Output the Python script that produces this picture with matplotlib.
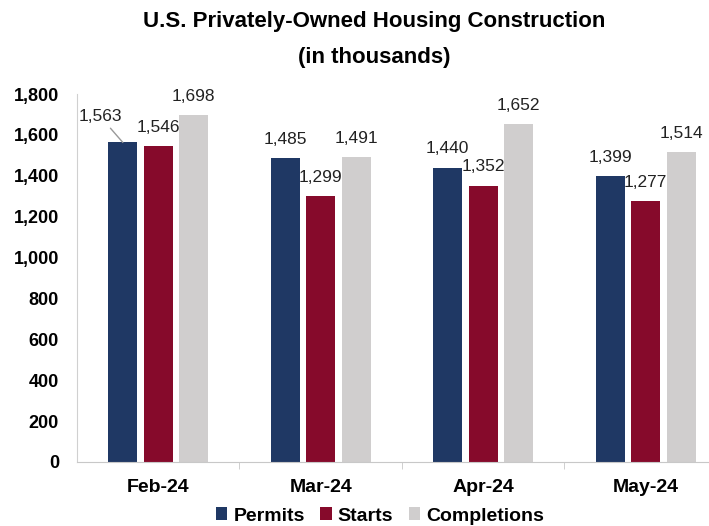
import matplotlib.pyplot as plt
import numpy as np
from matplotlib.ticker import FuncFormatter

months = ['Feb-24', 'Mar-24', 'Apr-24', 'May-24']
permits = [1563, 1485, 1440, 1399]
starts = [1546, 1299, 1352, 1277]
completions = [1698, 1491, 1652, 1514]

series = [('Permits', permits, '#1f3864'),
          ('Starts', starts, '#860a2b'),
          ('Completions', completions, '#d0cece')]

plt.rcParams['font.family'] = ['Liberation Sans', 'DejaVu Sans']

fig = plt.figure(figsize=(7.09, 5.26), dpi=100)
ax = fig.add_axes([77 / 709, 64 / 526, 632 / 709, 368 / 526])

x = np.arange(len(months))
step = 0.218
width = 0.178
for i, (name, vals, col) in enumerate(series):
    pos = x + (i - 1) * step
    ax.bar(pos, vals, width, color=col, label=name)
    for j, (p, v) in enumerate(zip(pos, vals)):
        if i == 0 and j == 0:
            # first label pushed aside with a leader line
            ax.annotate(f'{v:,}', xy=(p, v), xytext=(-16, 13), textcoords='offset points',
                        ha='center', va='bottom', fontsize=12.5, color='#222222',
                        arrowprops=dict(arrowstyle='-', color='#999999', lw=1,
                                        shrinkA=1, shrinkB=0))
        else:
            ax.annotate(f'{v:,}', xy=(p, v), xytext=(0, 8), textcoords='offset points',
                        ha='center', va='bottom', fontsize=12.5, color='#222222')

ax.set_xlim(-0.5, 3.39)
ax.set_ylim(0, 1800)
ax.set_yticks(range(0, 1801, 200))
ax.yaxis.set_major_formatter(FuncFormatter(lambda v, _: f'{int(v):,}'))
ax.tick_params(axis='y', length=0, pad=13)
for lab in ax.get_yticklabels():
    lab.set_fontweight('bold')
    lab.set_fontsize(13)

ax.set_xticks(x)
ax.set_xticklabels(months, fontweight='bold', fontsize=14)
ax.set_xticks([0.5, 1.5, 2.5], minor=True)
ax.tick_params(axis='x', which='major', length=0, pad=12)
ax.tick_params(axis='x', which='minor', length=5, color='#c8c8c8')

for s in ['top', 'right']:
    ax.spines[s].set_visible(False)
ax.spines['left'].set_color('#d0d0d0')
ax.spines['bottom'].set_color('#c8c8c8')

fig.text(0.528, 1 - 22 / 526, 'U.S. Privately-Owned Housing Construction',
         ha='center', va='center', fontsize=16, fontweight='bold')
fig.text(0.528, 1 - 57 / 526, '(in thousands)',
         ha='center', va='center', fontsize=16, fontweight='bold')

fig.legend(loc='center', bbox_to_anchor=(380 / 709, 1 - 516 / 526), ncol=3, frameon=False,
           prop={'weight': 'bold', 'size': 14},
           handlelength=0.6, handleheight=0.6, handletextpad=0.3, columnspacing=0.8)

fig.savefig('out.png', dpi=100)
